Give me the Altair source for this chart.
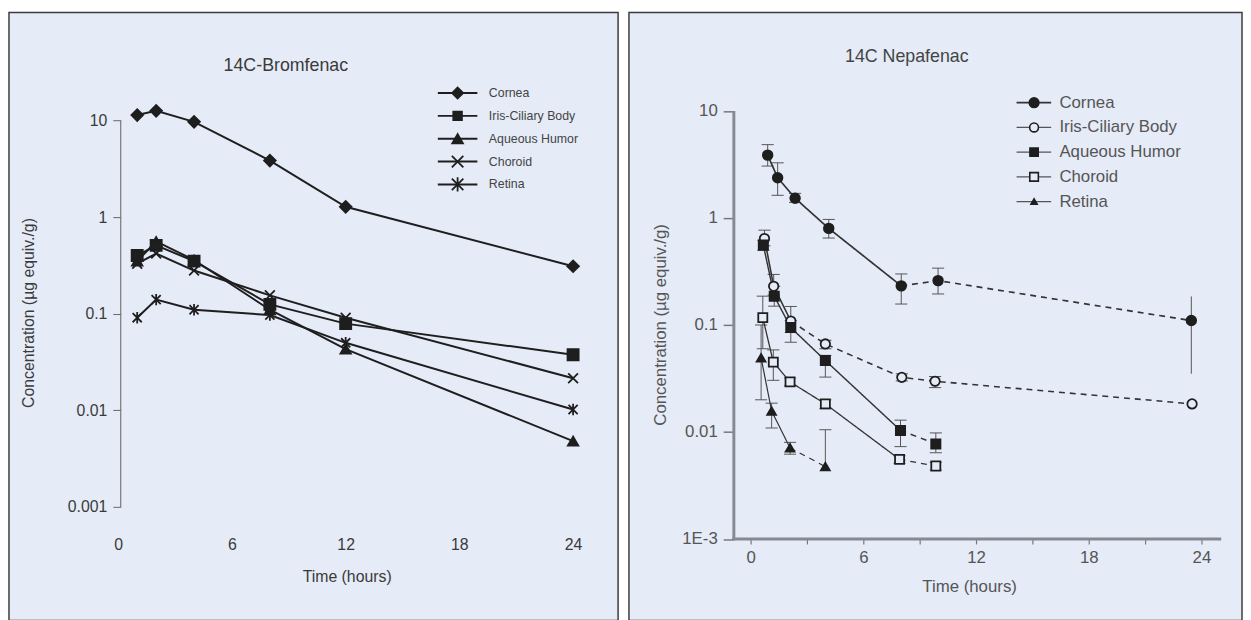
import altair as alt
import pandas as pd

FONT = "Liberation Sans"
BG = "#e5ebf7"
INK = "#1e1e1e"

series = ["Cornea", "Iris-Ciliary Body", "Aqueous Humor", "Choroid", "Retina"]
y_ticks = [10, 1, 0.1, 0.01, 0.001]

# ---------------- 14C-Bromfenac (left) ----------------
brom_time = [1, 2, 4, 8, 12, 24]
brom_cornea = [11.4, 12.6, 9.7, 3.85, 1.28, 0.31]
brom_iris = [0.40, 0.51, 0.35, 0.125, 0.079, 0.0376]
brom_aqueous = [0.35, 0.56, 0.36, 0.11, 0.043, 0.0048]
brom_choroid = [0.33, 0.42, 0.28, 0.155, 0.091, 0.0215]
brom_retina = [0.091, 0.14, 0.11, 0.097, 0.05, 0.0102]
brom_x_ticks = [0, 6, 12, 18, 24]

# ---------------- 14C Nepafenac (right) ----------------
nep_t_cornea = [0.91, 1.44, 2.37, 4.16, 8.02, 9.98, 23.46]
nep_cornea = [3.87, 2.38, 1.53, 0.80, 0.232, 0.26, 0.11]
nep_cornea_hi = [4.85, 3.28, 1.70, 0.97, 0.30, 0.34, 0.185]
nep_cornea_lo = [3.06, 1.63, 1.40, 0.65, 0.157, 0.195, 0.035]

nep_t_iris = [0.74, 1.23, 2.14, 3.98, 8.05, 9.82, 23.5]
nep_iris = [0.643, 0.23, 0.109, 0.0665, 0.0324, 0.0298, 0.0183]
nep_iris_hi = [0.77, 0.297, 0.149, 0.072, 0.035, 0.033, None]
nep_iris_lo = [0.55, 0.19, 0.085, 0.060, 0.030, 0.026, None]

nep_t_aqueous = [0.68, 1.26, 2.14, 3.98, 7.98, 9.86]
nep_aqueous = [0.558, 0.186, 0.0946, 0.0466, 0.01035, 0.00774]
nep_aqueous_hi = [0.62, 0.23, 0.11, 0.052, 0.0129, 0.0098]
nep_aqueous_lo = [0.50, 0.15, 0.069, 0.0326, 0.0073, 0.0064]

nep_t_choroid = [0.65, 1.21, 2.10, 3.98, 7.93, 9.86]
nep_choroid = [0.117, 0.045, 0.0294, 0.0183, 0.00555, 0.00481]
nep_choroid_hi = [0.186, 0.0585, 0.032, 0.020, 0.006, 0.0052]
nep_choroid_lo = [0.06, 0.0304, 0.027, 0.0165, 0.0051, 0.0044]

nep_t_retina = [0.56, 1.12, 2.10, 3.98]
nep_retina = [0.0493, 0.0157, 0.0071, 0.00475]
nep_retina_hi = [0.10, 0.0186, 0.0080, 0.0105]
nep_retina_lo = [0.02, 0.0109, 0.0062, None]

nep_dash_from = [4, 2, 4, 4, 2]  # index where the dashed part of each curve starts
nep_x_ticks = [0, 3, 6, 9, 12, 15, 18, 21, 24]

# ---------------- layout geometry ----------------
L_W, L_H = 616, 615
R_W, R_H = 620, 615

l_x0, l_ppu = 110.5, 460 / 24
l_y10, l_ppd = 109.3, 97.7
L_XDOM = [-l_x0 / l_ppu, (L_W - l_x0) / l_ppu]
L_YDOM = [10 ** (1 - (L_H - l_y10) / l_ppd), 10 ** (1 + l_y10 / l_ppd)]

r_x0, r_ppu = 123.0, 19.0
r_y10, r_ppd = 99.7, 108.2
R_XDOM = [-r_x0 / r_ppu, (R_W - r_x0) / r_ppu]
R_YDOM = [10 ** (1 - (R_H - r_y10) / r_ppd), 10 ** (1 + r_y10 / r_ppd)]

one = pd.DataFrame({"k": [0]})


def text_layer(txt, x, y, size, color, angle=0, align="center"):
    return alt.Chart(one).mark_text(
        text=txt, font=FONT, fontSize=size, color=color, align=align,
        baseline="middle", angle=angle,
    ).encode(x=alt.value(x), y=alt.value(y))


# ================= LEFT PANEL =================
brom_vals = [brom_cornea, brom_iris, brom_aqueous, brom_choroid, brom_retina]
brom_df = pd.DataFrame(
    [{"series": s, "t": t, "v": v}
     for s, vals in zip(series, brom_vals) for t, v in zip(brom_time, vals)]
)

X_PATH = "M-1,-1L1,1M-1,1L1,-1"
STAR_PATH = "M-1,-1L1,1M-1,1L1,-1M0,-1.25L0,1.25"
brom_shapes = ["diamond", "square", "triangle-up", X_PATH, STAR_PATH]
brom_sizes = [140, 85, 130, 150, 150]

lx = alt.X("t:Q", scale=alt.Scale(domain=L_XDOM, nice=False, zero=False),
           axis=alt.Axis(values=brom_x_ticks, title=None, grid=False, domain=False,
                         ticks=False, tickSize=0, labelPadding=0, labelBaseline="middle",
                         offset=-(L_H - 537.7), labelFont=FONT, labelFontSize=16,
                         labelColor="#3a3a3a"))
ly = alt.Y("v:Q", scale=alt.Scale(type="log", domain=L_YDOM, nice=False),
           axis=alt.Axis(values=y_ticks, title=None, grid=False, domain=False,
                         tickSize=8, tickColor="#666", tickWidth=1, labelPadding=6,
                         offset=-113, labelFont=FONT, labelFontSize=16,
                         labelColor="#3a3a3a",
                         labelExpr="format(datum.value, '~g')"))

left_axis_line = alt.Chart(one).mark_rule(color="#777", strokeWidth=1.2).encode(
    x=alt.value(113), y=alt.datum(10), y2=alt.datum(0.001))

left_lines = alt.Chart(brom_df).mark_line(color=INK, strokeWidth=2).encode(
    x=lx, y=ly, detail="series:N")

left_pts = alt.Chart(brom_df).mark_point(
    fill=INK, stroke=INK, strokeWidth=1.8, opacity=1).encode(
    x=lx, y=ly,
    shape=alt.Shape("series:N", scale=alt.Scale(domain=series, range=brom_shapes), legend=None),
    size=alt.Size("series:N", scale=alt.Scale(domain=series, range=brom_sizes), legend=None),
)

left_layers = [left_axis_line, left_lines, left_pts]
for i, s in enumerate(series):
    yy = 81.5 + i * 23.1
    left_layers.append(alt.Chart(one).mark_rule(color=INK, strokeWidth=2).encode(
        x=alt.value(433.7), x2=alt.value(473.7), y=alt.value(yy)))
    left_layers.append(alt.Chart(one).mark_point(
        shape=brom_shapes[i], size=brom_sizes[i] * 0.9, fill=INK, stroke=INK,
        strokeWidth=1.8, opacity=1).encode(x=alt.value(453.7), y=alt.value(yy)))
    left_layers.append(text_layer(s, 485.3, yy, 12.5, "#444", align="left"))

left_layers += [
    text_layer("14C-Bromfenac", 280, 54, 18, "#3a3a3a"),
    text_layer("Time (hours)", 342, 571, 16, "#3a3a3a"),
    text_layer("Concentration (µg equiv./g)", 20, 304, 16, "#3a3a3a", angle=270),
]

left = alt.layer(*left_layers).properties(width=L_W, height=L_H)

# ================= RIGHT PANEL =================
nep_t = [nep_t_cornea, nep_t_iris, nep_t_aqueous, nep_t_choroid, nep_t_retina]
nep_v = [nep_cornea, nep_iris, nep_aqueous, nep_choroid, nep_retina]
nep_hi = [nep_cornea_hi, nep_iris_hi, nep_aqueous_hi, nep_choroid_hi, nep_retina_hi]
nep_lo = [nep_cornea_lo, nep_iris_lo, nep_aqueous_lo, nep_choroid_lo, nep_retina_lo]

line_rows, pt_rows, err_rows, cap_rows = [], [], [], []
for s, ts, vs, his, los, k in zip(series, nep_t, nep_v, nep_hi, nep_lo, nep_dash_from):
    last = len(ts) - 1
    for i, (t, v) in enumerate(zip(ts, vs)):
        pt_rows.append({"series": s, "t": t, "v": v})
        if i <= k:
            line_rows.append({"series": s, "t": t, "v": v, "seg": "solid"})
        if i >= k:
            line_rows.append({"series": s, "t": t, "v": v, "seg": "dash"})
        hi = his[i] if his[i] is not None else v
        lo = los[i] if los[i] is not None else v
        if hi != lo:
            err_rows.append({"t": t, "lo": lo, "hi": hi})
        # the 24 h cornea bar is drawn without caps in the original
        if s == "Cornea" and i == last:
            continue
        if his[i] is not None:
            cap_rows.append({"t": t, "v": his[i]})
        if los[i] is not None:
            cap_rows.append({"t": t, "v": los[i]})

nep_line_df = pd.DataFrame(line_rows)
nep_pt_df = pd.DataFrame(pt_rows)
nep_err_df = pd.DataFrame(err_rows)
nep_cap_df = pd.DataFrame(cap_rows)

rx = alt.X("t:Q", scale=alt.Scale(domain=R_XDOM, nice=False, zero=False),
           axis=alt.Axis(values=nep_x_ticks, title=None, grid=False, domain=False,
                         tickSize=5, tickColor="#777", tickWidth=1.2,
                         labelPadding=14, labelBaseline="middle",
                         offset=-(R_H - 532.5), labelFont=FONT, labelFontSize=17,
                         labelColor="#555",
                         labelExpr="datum.value % 6 == 0 ? datum.label : ''"))
ry = alt.Y("v:Q", scale=alt.Scale(type="log", domain=R_YDOM, nice=False),
           axis=alt.Axis(values=y_ticks, title=None, grid=False, domain=False,
                         tickSize=11, tickColor="#777", tickWidth=1.5, labelPadding=6,
                         offset=-106.3, labelFont=FONT, labelFontSize=17,
                         labelColor="#555",
                         labelExpr="datum.value < 0.002 ? '1E-3' : format(datum.value, '~g')"))

right_axes = [
    alt.Chart(one).mark_rule(color="#858a92", strokeWidth=3).encode(
        x=alt.datum(-0.89), y=alt.datum(10), y2=alt.datum(0.001)),
    alt.Chart(one).mark_rule(color="#858a92", strokeWidth=3).encode(
        x=alt.datum(-0.97), x2=alt.datum(25.05), y=alt.datum(0.001)),
]

right_err = alt.Chart(nep_err_df).mark_rule(color="#555", strokeWidth=1).encode(
    x=alt.X("t:Q"), y=alt.Y("lo:Q"), y2="hi:Q")
right_caps = alt.Chart(nep_cap_df).mark_point(
    shape="stroke", size=150, stroke="#555", strokeWidth=1, opacity=1).encode(x=rx, y=ry)

right_lines = alt.Chart(nep_line_df).mark_line(color="#333").encode(
    x=rx, y=ry, detail="series:N",
    strokeDash=alt.StrokeDash("seg:N", scale=alt.Scale(domain=["solid", "dash"],
                                                         range=[[1, 0], [6, 5]]), legend=None),
    strokeWidth=alt.StrokeWidth("series:N", scale=alt.Scale(domain=series,
                                                             range=[1.7, 1.2, 1.2, 1.2, 1.2]), legend=None),
)

nep_shapes = ["circle", "circle", "square", "square", "triangle-up"]
nep_fills = [INK, BG, INK, BG, INK]
nep_sizes = [95, 80, 70, 75, 40]

right_pts = alt.Chart(nep_pt_df).mark_point(stroke=INK, strokeWidth=1.8, opacity=1).encode(
    x=rx, y=ry,
    shape=alt.Shape("series:N", scale=alt.Scale(domain=series, range=nep_shapes), legend=None),
    fill=alt.Fill("series:N", scale=alt.Scale(domain=series, range=nep_fills), legend=None),
    size=alt.Size("series:N", scale=alt.Scale(domain=series, range=nep_sizes), legend=None),
)

right_layers = right_axes + [right_err, right_caps, right_lines, right_pts]
for i, s in enumerate(series):
    yy = 91.3 + i * 25
    right_layers.append(alt.Chart(one).mark_rule(
        color="#333" if i == 0 else "#555", strokeWidth=1.8 if i == 0 else 1.2).encode(
        x=alt.value(392), x2=alt.value(427), y=alt.value(yy)))
    right_layers.append(alt.Chart(one).mark_point(
        shape=nep_shapes[i], size=nep_sizes[i], fill=nep_fills[i], stroke=INK,
        strokeWidth=1.6, opacity=1).encode(x=alt.value(409.7), y=alt.value(yy)))
    right_layers.append(text_layer(s, 435.3, yy, 17, "#555", align="left"))

right_layers += [
    text_layer("14C Nepafenac", 281, 45.4, 18, "#444"),
    text_layer("Time (hours)", 344.5, 581, 17, "#555"),
    text_layer("Concentration (µg equiv./g)", 32, 316, 17, "#555", angle=270),
]

right = alt.layer(*right_layers).properties(width=R_W, height=R_H)

chart = alt.hconcat(left, right, spacing=9).resolve_scale(
    shape="independent", size="independent", fill="independent",
    strokeDash="independent", strokeWidth="independent",
).properties(
    padding=0, background="white"
).configure_view(fill=BG, stroke="#3b3b3b", strokeWidth=1.5)

chart.save("out.html", embed_options={"renderer": "svg", "actions": False})
